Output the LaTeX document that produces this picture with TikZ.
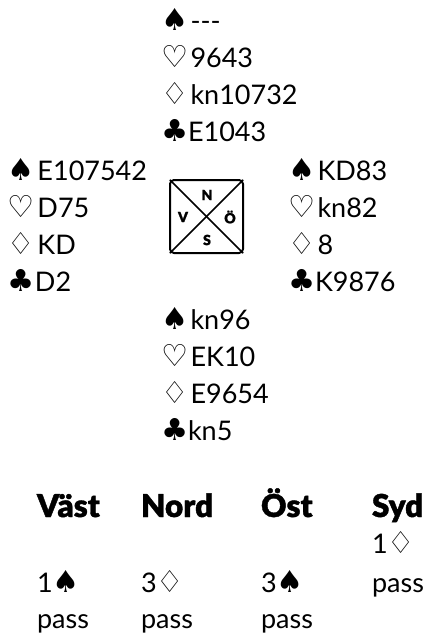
\documentclass[tikz,border=0pt]{standalone}
\usepackage{fontspec}
\setmainfont{Lato}
\newfontfamily\hdrfont[FakeBold=1.2]{Lato Black}
\newfontfamily\symf[Scale=1.12]{DejaVu Sans}
\newcommand{\Sp}{\makebox[29.5pt][l]{\symf ♠}}
\newcommand{\Hs}{\makebox[29.5pt][l]{\symf ♡}}
\newcommand{\Ds}{\makebox[29.5pt][l]{\symf ♢}}
\newcommand{\Cl}{\makebox[27pt][l]{\symf ♣}}
\newcommand{\SpB}{{\symf ♠}}
\newcommand{\DsB}{{\symf ♢}}
\begin{document}
\begin{tikzpicture}[x=1pt,y=-1pt,
  hand/.style={anchor=base west,inner sep=0pt,outer sep=0pt,font=\fontsize{27}{30}\selectfont},
  hdr/.style={anchor=base west,inner sep=0pt,outer sep=0pt,font=\fontsize{31.5}{34}\selectfont\hdrfont},
  bid/.style={anchor=base west,inner sep=0pt,outer sep=0pt,font=\fontsize{27}{30}\selectfont},
  dir/.style={inner sep=0pt,font=\fontsize{14}{14}\selectfont\hdrfont},
  compass/.style={draw,line width=2pt,rounded corners=4pt,minimum width=73pt,minimum height=73pt,inner sep=0pt}]
\useasboundingbox (0,0) rectangle (428,635);
% North
\node[hand] (n1) at (161,30) {\Sp{-}{-}{-}};
\node[hand] (n2) at (161,67) {\Hs 9643};
\node[hand] (n3) at (161,104) {\Ds kn10732};
\node[hand] (n4) at (161,141) {\Cl E1043};
% West
\node[hand] (w1) at (8,180) {\Sp E107542};
\node[hand] (w2) at (8,217) {\Hs D75};
\node[hand] (w3) at (8,254) {\Ds KD};
\node[hand] (w4) at (8,291) {\Cl D2};
% East
\node[hand] (e1) at (288,180) {\Sp KD83};
\node[hand] (e2) at (288,217) {\Hs kn82};
\node[hand] (e3) at (288,254) {\Ds 8};
\node[hand] (e4) at (288,291) {\Cl K9876};
% South
\node[hand] (s1) at (161,329) {\Sp kn96};
\node[hand] (s2) at (161,366) {\Hs EK10};
\node[hand] (s3) at (161,403) {\Ds E9654};
\node[hand] (s4) at (161,440) {\Cl kn5};
% Compass
\node[compass] (box) at (206.5,216.5) {};
\draw[line width=1.6pt,shorten <=1.2pt,shorten >=1.2pt] (box.north west) -- (box.south east);
\draw[line width=1.6pt,shorten <=1.2pt,shorten >=1.2pt] (box.north east) -- (box.south west);
\node[dir] (cn) at (207,195) {N};
\node[dir] (cv) at (183,217) {V};
\node[dir] (co) at (230,217) {Ö};
\node[dir] (cs) at (207,240) {S};
% Bidding
\node[hdr] (hv) at (37,517) {Väst};
\node[hdr] (hn) at (141,517) {Nord};
\node[hdr] (ho) at (261,517) {Öst};
\node[hdr] (hs) at (372,517) {Syd};
\node[bid] (b1) at (372,553) {1\DsB};
\node[bid] (b2) at (37,592) {1\SpB};
\node[bid] (b3) at (141,592) {3\DsB};
\node[bid] (b4) at (261,592) {3\SpB};
\node[bid] (b5) at (372,592) {pass};
\node[bid] (b6) at (37,628) {pass};
\node[bid] (b7) at (141,628) {pass};
\node[bid] (b8) at (261,628) {pass};
\end{tikzpicture}
\end{document}
